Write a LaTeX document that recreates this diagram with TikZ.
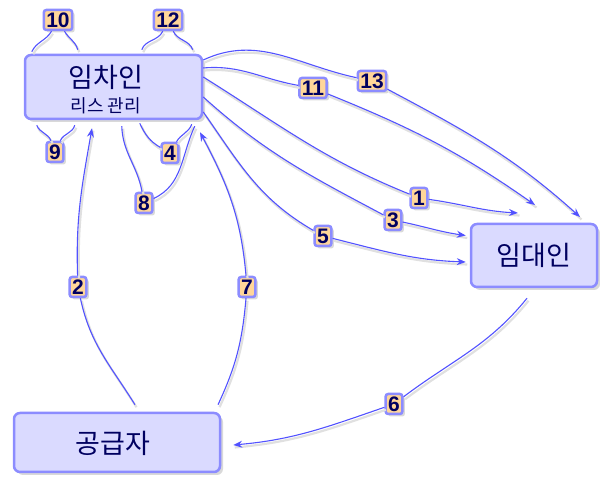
\documentclass[tikz,border=0pt]{standalone}
\usepackage{fontspec}
\setmainfont{Liberation Sans}
\newfontfamily\kr{Noto Sans CJK KR}
\usetikzlibrary{shadows,arrows.meta}
\definecolor{boxfill}{HTML}{DADAFF}
\definecolor{boxdraw}{HTML}{8C8CFF}
\definecolor{linec}{HTML}{5252FF}
\definecolor{labfill}{HTML}{FFD699}
\definecolor{txt}{HTML}{000060}
\begin{document}
\begin{tikzpicture}[x=1pt,y=1pt,
 actor/.style={draw=boxdraw, line width=2.5pt, fill=boxfill, rounded corners=6pt,
   font=\kr\fontsize{27}{28}\selectfont, text=txt, inner sep=0pt,
   drop shadow={shadow xshift=3pt, shadow yshift=-3pt, opacity=0.3}},
 ktext/.style={font=\kr\fontsize{#1}{#1}\selectfont, text=txt, inner sep=0pt},
 num/.style={draw=boxdraw, line width=2.5pt, fill=labfill, rounded corners=2.5pt,
   font=\bfseries\fontsize{21}{22}\selectfont, text=txt, inner xsep=2.5pt, inner ysep=2.5pt,
   text height=15pt, text depth=0pt,
   drop shadow={shadow xshift=2.5pt, shadow yshift=-2.5pt, opacity=0.3}},
 lshadow/.style={preaction={draw=black!12, line width=2.2pt, arrows=-,
   transform canvas={shift={(1.5pt,-2.5pt)}}}},
 conn/.style={draw=linec, line width=1.1pt, -{Stealth[length=9pt,width=7pt]}, lshadow},
 loopline/.style={draw=linec, line width=1.1pt, lshadow},
]
\useasboundingbox (0,0) rectangle (600,478);
% main boxes
\node[actor, minimum width=177pt, minimum height=64pt] (L) at (113.5,391) {};
\node[ktext=27] (Lt) at (106,401) {임차인};
\node[ktext=18] (Ls) at (106,372) {리스 관리};
\node[actor, minimum width=126pt, minimum height=63pt] (R) at (534,222.5) {임대인};
\node[actor, minimum width=206pt, minimum height=59pt] (S) at (117,35.5) {};
\node[ktext=27] (St) at (113,35) {공급자};
% number labels
\node[num] (n10) at (58,458) {10};
\node[num] (n12) at (168,458) {12};
\node[num] (n9) at (55,326) {9};
\node[num] (n4) at (170,325) {4};
\node[num] (n8) at (144,275) {8};
\node[num] (n11) at (313,390) {11};
\node[num] (n13) at (372,397) {13};
\node[num] (n1) at (419,280) {1};
\node[num] (n3) at (393,258) {3};
\node[num] (n5) at (323,242) {5};
\node[num] (n2) at (78,191) {2};
\node[num] (n7) at (247,191) {7};
\node[num] (n6) at (394,74) {6};
% free ends
\coordinate (e13) at (580,261);
\coordinate (e11) at (535,273);
\coordinate (e1) at (518,265);
% connectors to lessor
\draw[conn] ([yshift=27pt]L.east) to[out=25,in=168] (n13) to[out=-28,in=138] (e13);
\draw[conn] ([yshift=19pt]L.east) to[out=5,in=170] (n11) to[out=-22,in=145] (e11);
\draw[conn] ([yshift=10pt]L.east) to[out=-32,in=158] (n1) to[out=-8,in=177] (e1);
\draw[conn] ([yshift=-10pt]L.east) to[out=-42,in=152] (n3) to[out=-12,in=172] ([xshift=-4pt,yshift=20pt]R.west);
\draw[conn] ([yshift=-25pt]L.east) to[out=-55,in=150] (n5) to[out=-14,in=178] ([xshift=-4pt,yshift=-6.5pt]R.west);
% supplier connectors
\draw[conn] ([xshift=18pt,yshift=7pt]S.north) to[out=122,in=-78] (n2) to[out=92,in=-100] ([xshift=-21.5pt,yshift=-8pt]L.south);
\draw[conn] ([xshift=101pt,yshift=7pt]S.north) to[out=65,in=-95] (n7) to[out=95,in=-62] ([xshift=86.5pt,yshift=-12pt]L.south);
\draw[conn] ([xshift=-7pt,yshift=-10pt]R.south) to[out=-129,in=37] (n6) to[out=-161,in=5] ([xshift=12pt,yshift=-2.5pt]S.east);
% self loops
\draw[loopline] ([xshift=8pt,yshift=2pt]L.north west) to[out=65,in=-120] (n10) to[out=-60,in=105] ([xshift=54pt,yshift=4pt]L.north west);
\draw[loopline] ([xshift=118pt,yshift=4pt]L.north west) to[out=70,in=-115] (n12) to[out=-65,in=110] ([xshift=169pt,yshift=4pt]L.north west);
\draw[loopline] ([xshift=13pt,yshift=-5pt]L.south west) to[out=-70,in=110] (n9) to[out=65,in=-105] ([xshift=51pt,yshift=-5pt]L.south west);
\draw[loopline] ([xshift=116pt,yshift=-3pt]L.south west) to[out=-65,in=150] (n4) to[out=60,in=-110] ([xshift=168pt,yshift=-4pt]L.south west);
\draw[loopline] ([xshift=98pt,yshift=-6pt]L.south west) to[out=-88,in=100] (n8) to[out=25,in=-115] ([xshift=171pt,yshift=-6pt]L.south west);
\end{tikzpicture}
\end{document}
